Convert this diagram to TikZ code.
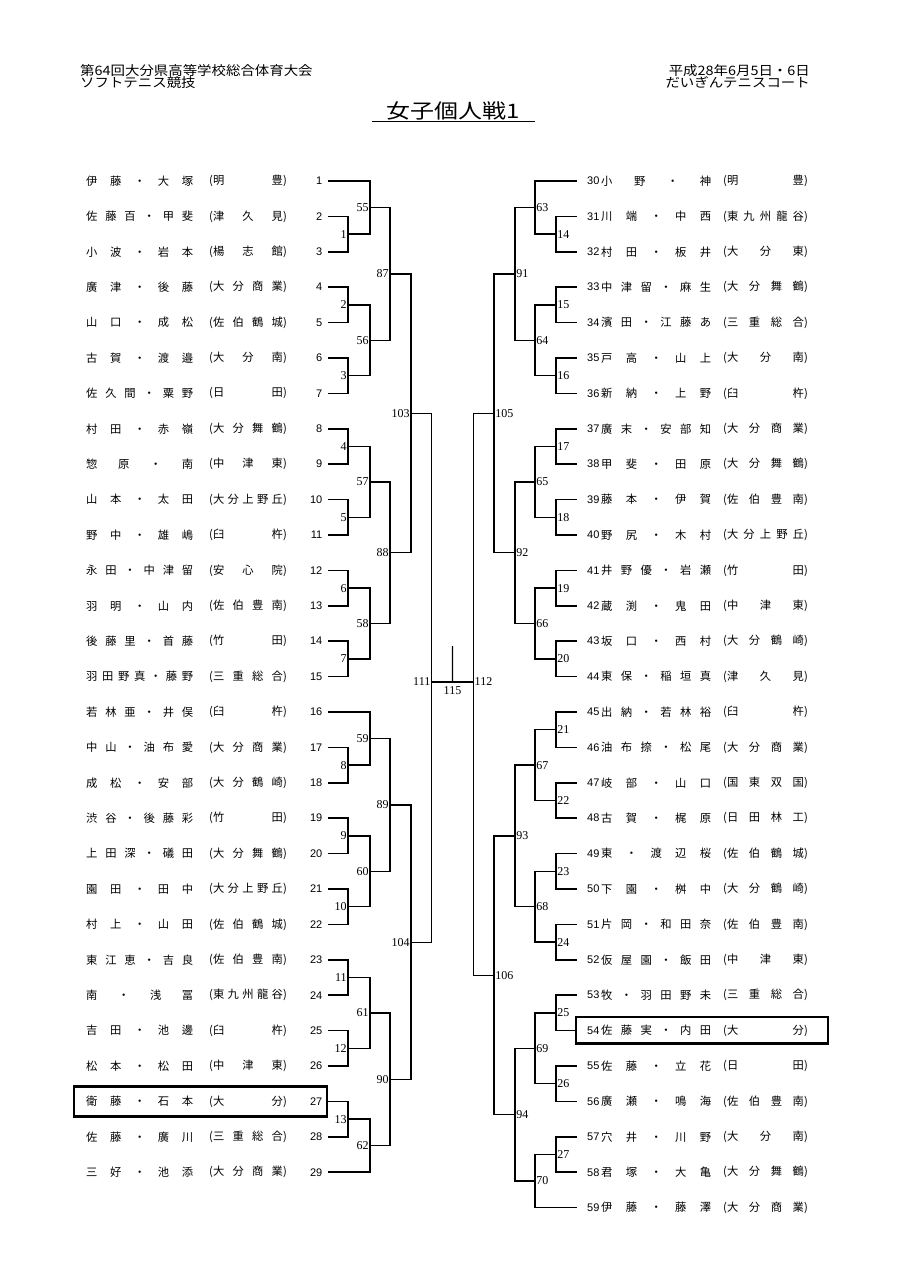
\documentclass[tikz,border=0pt]{standalone}
\usepackage{fontspec}
\usepackage{graphicx}
\setmainfont{Liberation Serif}
\newfontfamily\jpfont{Noto Sans CJK JP}
\newfontfamily\numfont{Liberation Sans}
\usetikzlibrary{calc}

% spread the characters of a name over a fixed width
\def\spreadtxt#1{\expandafter\spreadA#1\relax}
\def\spreadA#1{\ifx\relax#1\else#1\expandafter\spreadB\fi}
\def\spreadB#1{\ifx\relax#1\else\hfil#1\expandafter\spreadB\fi}

\tikzset{
  pnum/.style={font=\numfont\fontsize{11}{11}\selectfont,inner sep=0pt},
  pname/.style={font=\jpfont\fontsize{11.3}{11.3}\selectfont,inner sep=0pt,anchor=west},
  mlbl/.style={font=\fontsize{12}{12}\selectfont,inner sep=1.2pt},
  brk/.style={line width=1.5pt},
  fin/.style={line width=1.1pt},
  hilite/.style={draw,line width=2.6pt},
  hdr/.style={font=\jpfont\fontsize{13}{13}\selectfont,inner sep=0pt},
  ttl/.style={font=\jpfont\fontsize{20}{20}\selectfont,inner sep=0pt},
}

\begin{document}
\begin{tikzpicture}[x=1pt,y=-1pt]
  \useasboundingbox (0,0) rectangle (907,1284);
  % header
  \node[hdr,anchor=base west] (hdA) at (80,76) {\scalebox{1.11}[1]{第64回大分県高等学校総合体育大会}};
  \node[hdr,anchor=base west] (hdB) at (80,88) {\scalebox{1.11}[1]{ソフトテニス競技}};
  \node[hdr,anchor=base east] (hdC) at (810,76) {\scalebox{1.11}[1]{平成28年6月5日・6日}};
  \node[hdr,anchor=base east] (hdD) at (810,88) {\scalebox{1.11}[1]{だいぎんテニスコート}};
  \node[ttl,anchor=base,minimum width=163pt] (ttl) at (453.5,118.5) {\scalebox{1.2}[1]{女子個人戦1}};
  \draw[line width=1.3pt] ($(ttl.south west)+(0,1)$) -- ($(ttl.south east)+(0,1)$);

  % left players
  \foreach \i/\nm/\sc in {1/伊藤・大塚/明豊,2/佐藤百・甲斐/津久見,3/小波・岩本/楊志館,
      4/廣津・後藤/大分商業,5/山口・成松/佐伯鶴城,6/古賀・渡邉/大分南,7/佐久間・粟野/日田,
      8/村田・赤嶺/大分舞鶴,9/惣原・南/中津東,10/山本・太田/大分上野丘,11/野中・雄嶋/臼杵,
      12/永田・中津留/安心院,13/羽明・山内/佐伯豊南,14/後藤里・首藤/竹田,
      15/羽田野真・藤野/三重総合,16/若林亜・井俣/臼杵,17/中山・油布愛/大分商業,
      18/成松・安部/大分鶴崎,19/渋谷・後藤彩/竹田,20/上田深・礒田/大分舞鶴,
      21/園田・田中/大分上野丘,22/村上・山田/佐伯鶴城,23/東江恵・吉良/佐伯豊南,
      24/南・浅冨/東九州龍谷,25/吉田・池邊/臼杵,26/松本・松田/中津東,27/衛藤・石本/大分,
      28/佐藤・廣川/三重総合,29/三好・池添/大分商業}{
    \pgfmathsetmacro\yy{181+(\i-1)*35.4}
    \node[pname] (n\i) at (86,\yy) {\hbox to 107pt{\spreadtxt\nm}};
    \node[pname] (s\i) at (209,\yy) {(\hbox to 70pt{\spreadtxt\sc})};
    \node[pnum,anchor=east] (p\i) at (322.5,\yy) {\i};
    \coordinate (a\i) at (328,\yy);
  }
  % right players
  \foreach \k/\nm/\sc in {30/小野・神/明豊,31/川端・中西/東九州龍谷,32/村田・板井/大分東,
      33/中津留・麻生/大分舞鶴,34/濱田・江藤あ/三重総合,35/戸高・山上/大分南,36/新納・上野/臼杵,
      37/廣末・安部知/大分商業,38/甲斐・田原/大分舞鶴,39/藤本・伊賀/佐伯豊南,
      40/野尻・木村/大分上野丘,41/井野優・岩瀬/竹田,42/蔵渕・鬼田/中津東,43/坂口・西村/大分鶴崎,
      44/東保・稲垣真/津久見,45/出納・若林裕/臼杵,46/油布捺・松尾/大分商業,47/岐部・山口/国東双国,
      48/古賀・梶原/日田林工,49/東・渡辺桜/佐伯鶴城,50/下園・桝中/大分鶴崎,51/片岡・和田奈/佐伯豊南,
      52/仮屋園・飯田/中津東,53/牧・羽田野未/三重総合,54/佐藤実・内田/大分,55/佐藤・立花/日田,
      56/廣瀬・鳴海/佐伯豊南,57/穴井・川野/大分南,58/君塚・大亀/大分舞鶴,59/伊藤・藤澤/大分商業}{
    \pgfmathsetmacro\yy{181+(\k-30)*35.4}
    \node[pnum,anchor=west] (p\k) at (587,\yy) {\k};
    \node[pname] (n\k) at (601,\yy) {\hbox to 110pt{\spreadtxt\nm}};
    \node[pname] (s\k) at (723,\yy) {(\hbox to 77pt{\spreadtxt\sc})};
    \coordinate (a\k) at (577,\yy);
  }

  % left bracket
  \foreach \m/\ua/\ub/\xv in {1/a2/a3/348,2/a4/a5/348,3/a6/a7/348,4/a8/a9/348,5/a10/a11/348,
      6/a12/a13/348,7/a14/a15/348,8/a17/a18/348,9/a19/a20/348,10/a21/a22/348,11/a23/a24/348,
      12/a25/a26/348,13/a27/a28/348,
      55/a1/c1/370,56/c2/c3/370,57/c4/c5/370,58/c6/c7/370,59/a16/c8/370,60/c9/c10/370,
      61/c11/c12/370,62/c13/a29/370,
      87/c55/c56/390,88/c57/c58/390,89/c59/c60/390,90/c61/c62/390,
      103/c87/c88/411,104/c89/c90/411}{
    \path let \p1=($(\ua)!.5!(\ub)$) in (\xv pt,\y1) coordinate (c\m);
    \draw[brk] (\ua) -| (c\m) |- (\ub);
    \node[mlbl,anchor=east] (w\m) at (c\m) {\m};
  }
  % right bracket
  \foreach \m/\ua/\ub/\xv in {14/a31/a32/556,15/a33/a34/556,16/a35/a36/556,17/a37/a38/556,
      18/a39/a40/556,19/a41/a42/556,20/a43/a44/556,21/a45/a46/556,22/a47/a48/556,
      23/a49/a50/556,24/a51/a52/556,25/a53/a54/556,26/a55/a56/556,27/a57/a58/556,
      63/a30/c14/535,64/c15/c16/535,65/c17/c18/535,66/c19/c20/535,67/c21/c22/535,
      68/c23/c24/535,69/c25/c26/535,70/c27/a59/535,
      91/c63/c64/515,92/c65/c66/515,93/c67/c68/515,94/c69/c70/515,
      105/c91/c92/494,106/c93/c94/494}{
    \path let \p1=($(\ua)!.5!(\ub)$) in (\xv pt,\y1) coordinate (c\m);
    \draw[brk] (\ua) -| (c\m) |- (\ub);
    \node[mlbl,anchor=west] (w\m) at (c\m) {\m};
  }

  % final
  \coordinate (c111) at (431.7,682);
  \coordinate (c112) at (473.3,682);
  \coordinate (c115) at ($(c111)!.5!(c112)$);
  \coordinate (top) at (452.5,646);
  \draw[fin] (c103) -| (c111) |- (c104);
  \draw[fin] (c105) -| (c112) |- (c106);
  \draw[fin] (c111) -- (c112);
  \draw[fin] (c115) -- (top);
  \node[mlbl,anchor=east] (w111) at (c111) {111};
  \node[mlbl,anchor=west] (w112) at (c112) {112};
  \node[mlbl,anchor=north,inner sep=4pt] (w115) at (c115) {115};

  % marked pairs
  \draw[hilite] ($(n27.west)+(-12,-15)$) rectangle ($(a27)+(-1,15)$);
  \draw[hilite] ($(a54)+(-1,-13.5)$) rectangle ($(a54)+(251,13)$);
\end{tikzpicture}
\end{document}
